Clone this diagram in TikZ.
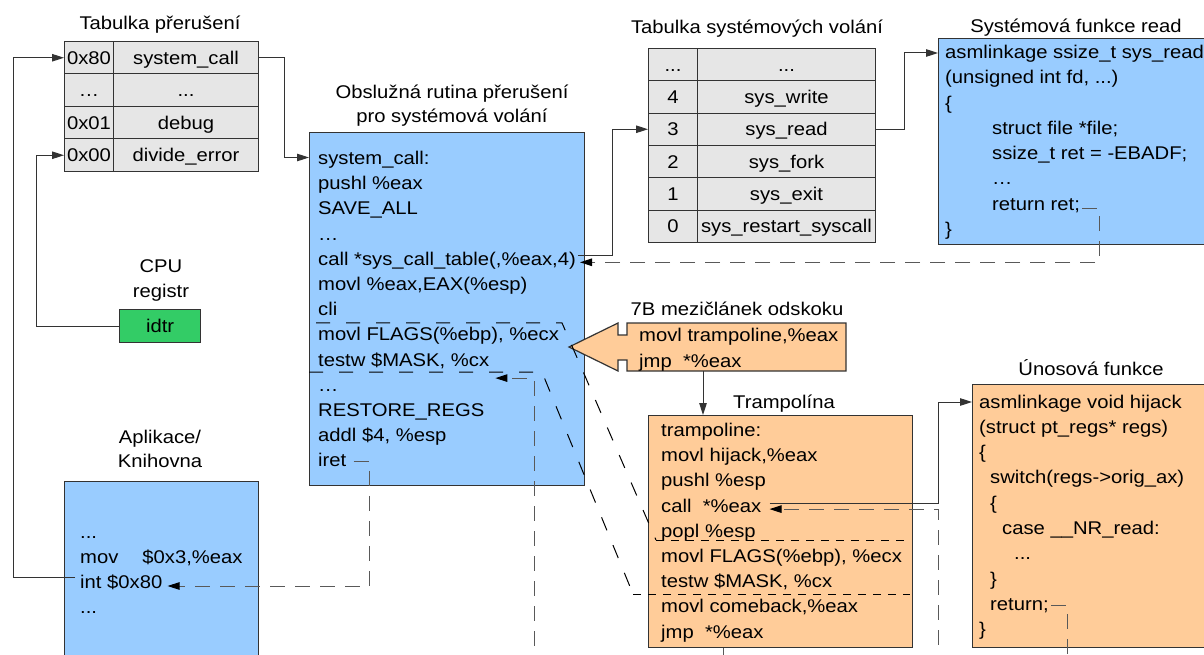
\documentclass[tikz,border=0pt]{standalone}
\usepackage{fontspec}
\setmainfont{Liberation Sans}[FakeStretch=1.1]
\usepackage{xcolor}
\usepackage{tikz}
\usetikzlibrary{arrows.meta, positioning}
\definecolor{sysblue}{RGB}{153,204,255}
\definecolor{hookorange}{RGB}{255,204,153}
\definecolor{regsgreen}{RGB}{51,204,102}
\definecolor{tblgray}{RGB}{230,230,230}
\definecolor{edge}{RGB}{51,51,51}
\newcommand{\etcdots}{...}
\tikzset{
    cell/.style={rectangle, draw=edge, line width=1pt, fill=tblgray, minimum height=32.5pt, inner sep=0pt, text height=13pt, text depth=0pt, anchor=north west},
    codebox/.style={rectangle, draw=edge, line width=1.2pt, inner sep=0pt, anchor=north west},
    codeline/.style={inner sep=0pt, anchor=base west},
    heading/.style={inner sep=0pt, anchor=base},
    link/.style={-{Triangle[length=12pt,width=7.5pt]}, line width=1pt, draw=edge},
    retline/.style={-{Triangle[length=12pt,width=7.5pt,color=black]}, line width=1pt, draw=black!65, dash pattern=on 15pt off 10pt},
    mapline/.style={line width=1pt, dash pattern=on 14pt off 16pt},
    tramline/.style={line width=1pt, dash pattern=on 8pt off 7pt}
}

\begin{document}
\begin{tikzpicture}[x=1pt, y=-1pt, font=\fontsize{18.4pt}{22pt}\selectfont]
    \useasboundingbox (0,0) rectangle (1204,655);
    \clip (0,0) rectangle (1204,655);

    % Interrupt table
    \node[heading] (ivttitle) at (160,30) {Tabulka přerušení};
    \foreach \r/\num/\handler in {0/0x80/system\_call, 1/…/\etcdots, 2/0x01/debug, 3/0x00/divide\_error} {
        \node[cell, minimum width=49pt] (ivtl\r) at (64,{41+32.5*\r}) {\num};
        \node[cell, minimum width=145pt] (ivtr\r) at (113,{41+32.5*\r}) {\handler};
    }

    % System call table
    \node[heading] (scttitle) at (757,34) {Tabulka systémových volání};
    \foreach \r/\num/\handler in {0/\etcdots/\etcdots, 1/4/sys\_write, 2/3/sys\_read, 3/2/sys\_fork, 4/1/sys\_exit, 5/0/sys\_restart\_syscall} {
        \node[cell, minimum width=49pt, minimum height=32.3pt] (sctl\r) at (648,{48+32.3*\r}) {\num};
        \node[cell, minimum width=178pt, minimum height=32.3pt] (sctr\r) at (697,{48+32.3*\r}) {\handler};
    }

    % CPU register
    \node[heading] (cputitle) at (161,272) {CPU};
    \node[heading] (regtitle) at (161,297) {registr};
    \node[codebox, fill=regsgreen, minimum width=81pt, minimum height=33pt, text height=13pt, text depth=0pt] (idtr) at (119,309) {idtr};

    % Application
    \node[heading] (apptitle) at (160,443) {Aplikace/};
    \node[heading] (libtitle) at (160,467) {Knihovna};
    \node[codebox, fill=sysblue, minimum width=194pt, minimum height=240pt] (appbox) at (64,481) {};
    \foreach \i/\txt in {0/\etcdots, 1/{mov\quad\ \$0x3,\%eax}, 2/int \$0x80, 3/\etcdots}
        \node[codeline] (app\i) at (80,{538+25*\i}) {\txt};

    % System call handler
    \node[heading] (sctitle) at (452,99) {Obslužná rutina přerušení};
    \node[heading] (scsubtitle) at (452,123) {pro systémová volání};
    \node[codebox, fill=sysblue, minimum width=275pt, minimum height=353pt] (scbox) at (309,132) {};
    \foreach \i/\txt in {0/system\_call:, 1/pushl \%eax, 2/SAVE\_ALL, 3/…, 4/{call *sys\_call\_table(,\%eax,4)}, 5/{movl \%eax,EAX(\%esp)}, 6/cli, 7/{movl FLAGS(\%ebp), \%ecx}, 8/{testw \$MASK, \%cx}, 9/…, 10/RESTORE\_REGS, 11/{addl \$4, \%esp}, 12/iret}
        \node[codeline] (sc\i) at (318,{164.5+25.2*\i}) {\txt};

    % Read system function
    \node[heading] (rdtitle) at (1076,33) {Systémová funkce read};
    \node[codebox, fill=sysblue, minimum width=300pt, minimum height=206pt] (rdbox) at (938,38) {};
    \foreach \i/\x/\txt in {0/945/asmlinkage ssize\_t sys\_read, 1/945/{(unsigned int fd, \etcdots)}, 2/945/\{, 3/992/struct file *file;, 4/992/ssize\_t ret = -EBADF;, 5/992/…, 6/992/return ret;, 7/945/\}}
        \node[codeline] (rd\i) at (\x,{58.5+25.3*\i}) {\txt};

    % 7B jump stub
    \node[heading] (tbtitle) at (737,315) {7B mezičlánek odskoku};
    \draw[line width=1.2pt, draw=edge, fill=hookorange] (569,347) -- (618,323) -- (618,335) -- (627,335) -- (627,323) -- (846,323) -- (846,371) -- (627,371) -- (627,360) -- (618,360) -- (618,371) -- cycle;
    \node[codeline] (tb0) at (639,341) {movl trampoline,\%eax};
    \node[codeline] (tb1) at (639,367) {jmp\ \ *\%eax};
    \coordinate (tbout) at (703,371);

    % Trampoline
    \node[heading] (trtitle) at (784,408) {Trampolína};
    \node[codebox, fill=hookorange, minimum width=264pt, minimum height=232pt] (trbox) at (648,415) {};
    \foreach \i/\txt in {0/trampoline:, 1/{movl hijack,\%eax}, 2/pushl \%esp, 3/call\ \ *\%eax, 4/popl \%esp, 5/{movl FLAGS(\%ebp), \%ecx}, 6/{testw \$MASK, \%cx}, 7/{movl comeback,\%eax}, 8/jmp\ \ *\%eax}
        \node[codeline] (tr\i) at (661,{436.5+25.2*\i}) {\txt};

    % Hijack function
    \node[heading] (hjtitle) at (1091,375) {Únosová funkce};
    \node[codebox, fill=hookorange, minimum width=260pt, minimum height=263pt] (hjbox) at (972,384) {};
    \foreach \i/\x/\txt in {0/979/asmlinkage void hijack, 1/979/(struct pt\_regs* regs), 2/979/\{, 3/990/switch(regs->orig\_ax), 4/990/\{, 5/1002/case \_\_NR\_read:, 6/1014/\etcdots, 7/990/\}, 8/990/return;, 9/979/\}}
        \node[codeline] (hj\i) at (\x,{408+25.3*\i}) {\txt};

    % Calls
    \draw[link] ([shift={(-5pt,11pt)}]app2.base west) -- ++(-62,0) |- (ivtl0.west);
    \draw[link] (idtr.west) -- ++(-83,0) |- (ivtl3.west);
    \draw[link] (ivtr0.east) -- ++(25,0) |- ([shift={(-9pt,7pt)}]sc0.base west);
    \draw[link] ([shift={(2pt,10pt)}]sc4.base east) -| ([xshift=-36pt]sctl2.west) -- (sctl2.west);
    \draw[link] (sctr2.east) -- ++(28,0) |- ([shift={(-7pt,5.5pt)}]rd0.base west);
    \draw[link] (tbout) -- (tbout |- trbox.north);
    \draw[link] ([shift={(8pt,9pt)}]tr3.base east) -| ([shift={(-41pt,6pt)}]hj0.base west) -- ([shift={(-7pt,6pt)}]hj0.base west);

    % Returns
    \draw[retline] ([shift={(2pt,2pt)}]rd6.base east) -- ++(17,0) |- ([shift={(4pt,3pt)}]sc4.base east);
    \draw[retline] ([shift={(7pt,5pt)}]sc12.base east) -- ++(16,0) |- ([shift={(5pt,2pt)}]app2.base east);
    \draw[retline] ([shift={(2pt,5pt)}]hj8.base east) -| (1067,690) -- (938,690) |- ([shift={(8pt,3pt)}]tr3.base east);
    \draw[retline] ([xshift=75pt]trbox.south west) -- (723,690) -- (534,690) |- ([shift={(6pt,-12pt)}]sc8.base east);

    % Replaced instructions
    \draw[mapline] ([shift={(-2pt,18pt)}]sc7.base west) -- ++(246,0) -- ([shift={(-5pt,22.5pt)}]tr5.base west) coordinate (trtop);
    \draw[tramline] (trtop) -- ++(254,0);
    \draw[mapline] ([shift={(-9pt,-6pt)}]sc8.base west) -- ++(233,0) -- ([shift={(-28pt,-6.3pt)}]tr6.base west) coordinate (trbot);
    \draw[tramline] (trbot) -- ++(277,0);
\end{tikzpicture}
\end{document}
